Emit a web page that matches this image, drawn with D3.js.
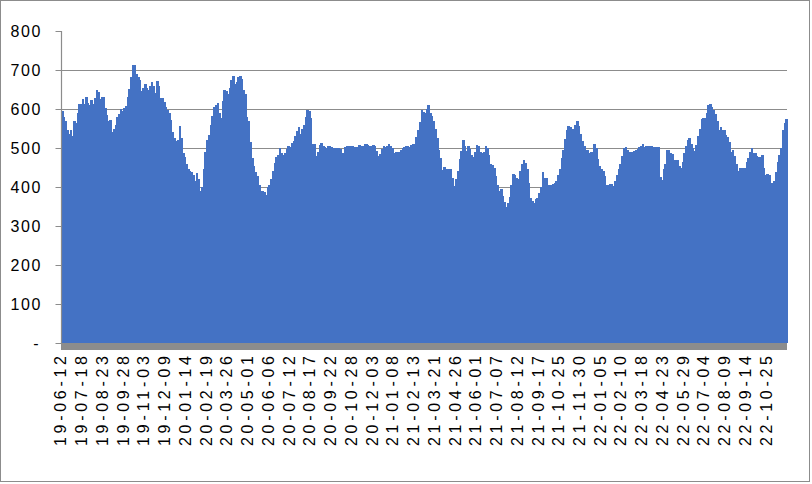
<!DOCTYPE html>
<html>
<head>
<meta charset="utf-8">
<script src="https://cdn.jsdelivr.net/npm/d3@7"></script>
<style>
  html, body { margin: 0; padding: 0; background: #fff; }
  svg { display: block; }
</style>
</head>
<body>
<svg id="chart" width="812" height="484"></svg>
<script>
// Category tick labels (one label every 12 bars)
const tickLabels = [
  "19-06-12","19-07-18","19-08-23","19-09-28","19-11-03","19-12-09",
  "20-01-14","20-02-19","20-03-26","20-05-01","20-06-06","20-07-12",
  "20-08-17","20-09-22","20-10-28","20-12-03","21-01-08","21-02-13",
  "21-03-21","21-04-26","21-06-01","21-07-07","21-08-12","21-09-17",
  "21-10-25","21-11-30","22-01-05","22-02-10","22-03-18","22-04-23",
  "22-05-29","22-07-04","22-08-09","22-09-14","22-10-25"
];
const labelStep = 12;

// Y-axis tick values
const yTicks = [0, 100, 200, 300, 400, 500, 600, 700, 800];

// Series values (12 bars per label interval)
const values = [
  596,580,570,545,535,545,530,568,565,590,612,614,
  625,612,630,615,610,622,614,628,648,643,625,630,
  632,602,585,570,572,542,548,560,580,586,600,596,
  603,607,630,652,682,712,712,690,681,675,645,655,
  663,655,648,658,668,658,642,672,660,628,627,617,
  604,598,590,572,540,526,519,520,557,525,487,478,
  458,446,440,439,432,416,437,420,390,401,445,490,
  520,533,560,582,604,610,616,590,576,620,648,645,
  638,655,675,684,664,670,682,685,678,648,638,580,
  570,515,475,455,438,428,405,391,389,388,380,401,
  404,420,442,462,478,482,500,488,483,486,498,505,
  502,512,518,530,543,555,535,548,558,580,598,595,
  578,510,511,480,490,508,512,505,503,500,505,505,
  503,499,499,499,499,497,487,484,502,506,504,505,
  505,503,503,502,508,505,504,509,509,507,504,506,
  508,504,492,480,485,497,504,503,506,509,506,500,
  487,489,489,490,494,500,502,505,506,503,508,510,
  511,528,545,566,598,593,590,600,610,590,583,570,
  550,525,495,475,444,452,446,446,446,446,424,402,
  420,440,472,492,520,505,492,505,497,483,478,490,
  508,506,490,486,490,506,500,482,458,456,450,428,
  405,390,395,378,362,350,360,374,405,434,432,424,
  420,440,460,468,462,445,410,372,363,360,370,372,
  384,400,438,424,422,398,404,404,408,410,415,432,
  445,475,495,522,545,557,553,550,550,560,568,556,
  535,517,505,486,496,487,490,491,510,500,473,455,
  446,440,427,405,405,407,407,402,415,432,446,459,
  480,499,502,496,490,489,491,492,495,498,502,506,
  510,503,505,506,505,505,503,503,503,503,425,418,
  445,460,495,495,486,485,470,470,470,455,448,465,
  488,505,520,525,511,499,492,508,530,550,575,578,
  577,590,610,612,606,598,588,570,545,555,547,547,
  534,527,516,491,494,480,458,441,450,449,449,449,
  465,475,490,501,488,488,480,476,478,482,450,432,
  434,432,407,410,416,438,465,482,500,545,563,575
];

const svg = d3.select("#chart");
const plot = { left: 61, right: 787, top: 31, bottom: 343 };

// outer border
svg.append("rect")
  .attr("x", 0.5).attr("y", 0.5)
  .attr("width", 809).attr("height", 481)
  .attr("fill", "#fff").attr("stroke", "#8c8c8c").attr("stroke-width", 1);

const x = d3.scaleBand()
  .domain(d3.range(values.length))
  .range([plot.left, plot.right])
  .padding(0);

const y = d3.scaleLinear()
  .domain([0, 800])
  .range([plot.bottom, plot.top]);

// gridlines
svg.append("g")
  .selectAll("line")
  .data(yTicks.filter(d => d > 0 && d < 800))
  .join("line")
  .attr("x1", plot.left).attr("x2", plot.right)
  .attr("y1", d => Math.round(y(d)) + 0.5)
  .attr("y2", d => Math.round(y(d)) + 0.5)
  .attr("stroke", "#8c8c8c").attr("stroke-width", 1);

// bars
svg.append("g")
  .attr("shape-rendering", "crispEdges")
  .selectAll("rect")
  .data(values)
  .join("rect")
  .attr("x", (d, i) => x(i))
  .attr("width", x.bandwidth() + 0.8)
  .attr("y", d => y(d))
  .attr("height", d => y(0) - y(d))
  .attr("fill", "#4472C4");

// grey floor band under the bars
svg.append("rect")
  .attr("x", plot.left).attr("y", y(0))
  .attr("width", plot.right - plot.left).attr("height", 7)
  .attr("fill", "#8c8c8c");

// y axis
const yAxis = d3.axisLeft(y)
  .tickValues(yTicks)
  .tickSize(6)
  .tickPadding(15)
  .tickFormat(d => d === 0 ? "-" : d3.format("d")(d));

const gy = svg.append("g")
  .attr("transform", `translate(${plot.left + 0.5},0)`)
  .call(yAxis);
gy.select(".domain").attr("stroke", "#8c8c8c").attr("stroke-width", 1.2)
  .attr("d", `M0,${plot.top}V${plot.bottom}`);
gy.selectAll(".tick line").attr("stroke", "#8c8c8c");
gy.selectAll(".tick text")
  .attr("font-family", "'Liberation Sans', Arial, sans-serif")
  .attr("font-size", 16)
  .attr("fill", "#000")
  .each(function(d) {
    const t = d3.select(this);
    if (d === 0) { t.attr("dx", -2); }
    else { t.attr("textLength", String(d).length * 10).attr("lengthAdjust", "spacing"); }
  });

// x axis labels
const labelIdx = d3.range(tickLabels.length).map(k => k * labelStep);
svg.append("g")
  .selectAll("text")
  .data(labelIdx)
  .join("text")
  .attr("transform", i => `translate(${x(i) + x.bandwidth() / 2 - 1.2},356) rotate(-90)`)
  .attr("dy", "0.36em")
  .attr("text-anchor", "end")
  .attr("font-family", "'Liberation Sans', Arial, sans-serif")
  .attr("font-size", 16)
  .attr("fill", "#000")
  .attr("textLength", 90)
  .attr("lengthAdjust", "spacing")
  .text(i => tickLabels[i / labelStep]);
</script>
</body>
</html>
